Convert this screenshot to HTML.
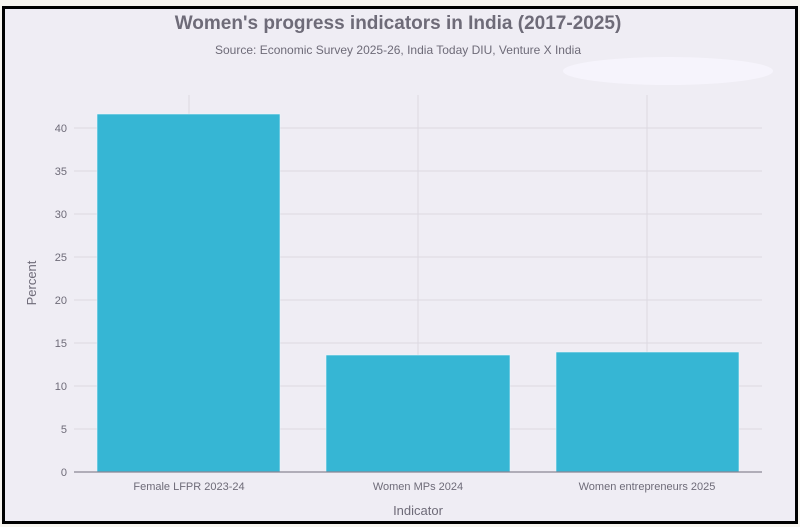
<!DOCTYPE html>
<html><head><style>
body{margin:0;background:#f7f5ef;}
</style></head><body>
<svg width="800" height="527" xmlns="http://www.w3.org/2000/svg" style="display:block;font-family:'Liberation Sans',sans-serif">
<rect x="0" y="0" width="800" height="527" fill="#f7f5ef"/>
<rect x="3.5" y="7.5" width="793" height="515" fill="#efedf4" stroke="#000" stroke-width="3"/>
<text x="398" y="29" text-anchor="middle" font-size="19" fill="#6e6b78" font-weight="bold">Women's progress indicators in India (2017-2025)</text>
<text x="398" y="54" text-anchor="middle" font-size="12" fill="#6e6b78">Source: Economic Survey 2025-26, India Today DIU, Venture X India</text>
<ellipse cx="668" cy="71" rx="105" ry="14" fill="#f6f4fc"/>
<g stroke="#dcd9e1" stroke-width="1">
<line x1="74" x2="762" y1="429" y2="429"/><line x1="74" x2="762" y1="386" y2="386"/>
<line x1="74" x2="762" y1="343" y2="343"/><line x1="74" x2="762" y1="300" y2="300"/>
<line x1="74" x2="762" y1="257" y2="257"/><line x1="74" x2="762" y1="214" y2="214"/>
<line x1="74" x2="762" y1="171" y2="171"/><line x1="74" x2="762" y1="128" y2="128"/>
<line x1="189" x2="189" y1="95" y2="472"/><line x1="418" x2="418" y1="95" y2="472"/><line x1="647" x2="647" y1="95" y2="472"/>
</g>
<g fill="#36b6d4" stroke="#e8f6fa" stroke-width="0.6">
<rect x="97" y="114" width="183" height="358"/>
<rect x="326" y="355" width="184" height="117"/>
<rect x="556" y="352" width="183" height="120"/>
</g>
<line x1="74" x2="762" y1="472" y2="472" stroke="#8a8794" stroke-width="1.3"/>
<g font-size="11" fill="#6e6b78" text-anchor="end">
<text x="67" y="476">0</text><text x="67" y="433">5</text><text x="67" y="390">10</text>
<text x="67" y="347">15</text><text x="67" y="304">20</text><text x="67" y="261">25</text>
<text x="67" y="218">30</text><text x="67" y="175">35</text><text x="67" y="132">40</text>
</g>
<g font-size="11" fill="#6e6b78" text-anchor="middle">
<text x="189" y="490">Female LFPR 2023-24</text>
<text x="418" y="490">Women MPs 2024</text>
<text x="647" y="490">Women entrepreneurs 2025</text>
</g>
<text x="418" y="515" text-anchor="middle" font-size="13" fill="#6e6b78">Indicator</text>
<text transform="translate(36,283) rotate(-90)" text-anchor="middle" font-size="13" fill="#6e6b78">Percent</text>
</svg>
</body></html>
